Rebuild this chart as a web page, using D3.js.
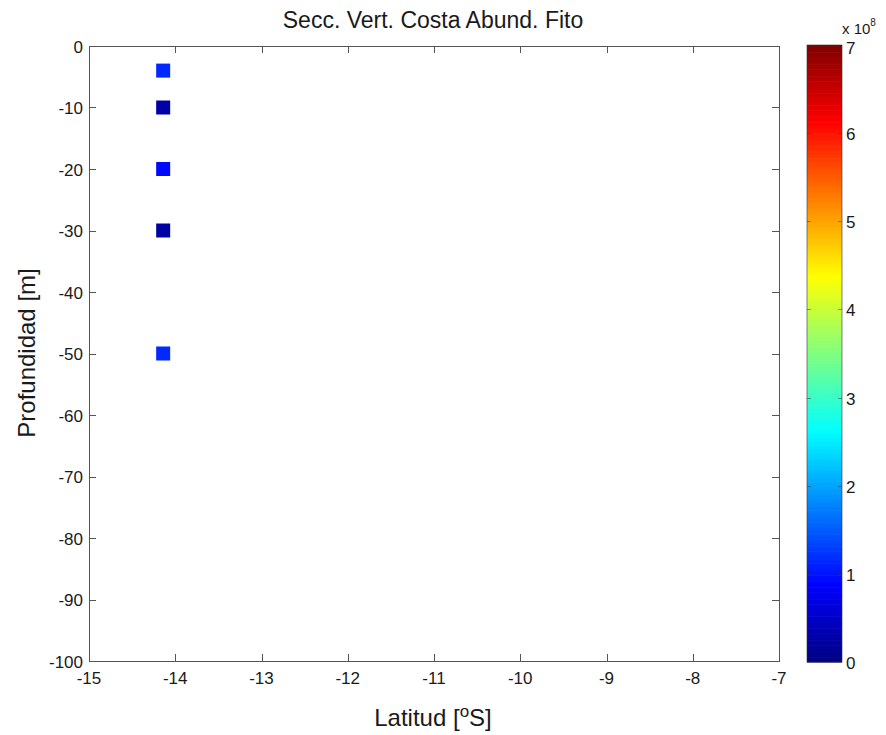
<!DOCTYPE html>
<html><head><meta charset="utf-8">
<script src="https://cdn.jsdelivr.net/npm/d3@7"></script>
<style>body{margin:0;background:#fff}svg{display:block;font-family:"Liberation Sans",Arial,sans-serif}</style>
</head><body>
<svg id="c" width="886" height="735"></svg>
<script>
const latitudes = [-14.14, -14.14, -14.14, -14.14, -14.14];
const depths = [-4, -10, -20, -30, -50];
const abundance = [1.15e8, 0.3e8, 0.95e8, 0.25e8, 1.15e8];
const xTicks = [-15, -14, -13, -12, -11, -10, -9, -8, -7];
const yTicks = [0, -10, -20, -30, -40, -50, -60, -70, -80, -90, -100];
const cbTicks = [0, 1, 2, 3, 4, 5, 6, 7];

function jet(t){
  const c = v => Math.max(0, Math.min(1, v));
  const r = c(1.5 - Math.abs(4*t - 3));
  const g = c(1.5 - Math.abs(4*t - 2));
  const b = c(1.5 - Math.abs(4*t - 1));
  return d3.rgb(r*255, g*255, b*255).toString();
}
const nLevels = 64;
function jetQ(t){ const i = Math.min(nLevels-1, Math.floor(t*nLevels)); return jet((i+0.5)/nLevels); }

const svg = d3.select("#c");
const L = 89, R = 779, T = 46, B = 661;
const x = d3.scaleLinear().domain([-15, -7]).range([L, R]);
const y = d3.scaleLinear().domain([-100, 0]).range([B, T]);
const cmax = 7e8;
const color = v => jetQ(v / cmax);
const axisColor = "#555";
const tl = 7;
const txt = "#1a1a1a";
const fs = 17;

svg.append("rect").attr("x", L + 0.5).attr("y", T + 0.5).attr("width", R-L).attr("height", B-T)
  .attr("fill", "none").attr("stroke", axisColor).attr("stroke-width", 1);

const g = svg.append("g");
xTicks.forEach(v => {
  const px = Math.round(x(v)) + 0.5;
  g.append("line").attr("x1", px).attr("x2", px).attr("y1", B).attr("y2", B - tl).attr("stroke", axisColor);
  g.append("line").attr("x1", px).attr("x2", px).attr("y1", T).attr("y2", T + tl).attr("stroke", axisColor);
  g.append("text").attr("x", x(v)).attr("y", B + 23).attr("text-anchor", "middle")
    .attr("font-size", fs).attr("fill", txt).text(v);
});
yTicks.forEach(v => {
  const py = Math.round(y(v)) + 0.5;
  g.append("line").attr("x1", L).attr("x2", L + tl).attr("y1", py).attr("y2", py).attr("stroke", axisColor);
  g.append("line").attr("x1", R).attr("x2", R - tl).attr("y1", py).attr("y2", py).attr("stroke", axisColor);
  g.append("text").attr("x", L - 6).attr("y", y(v) + 6.5).attr("text-anchor", "end")
    .attr("font-size", fs).attr("fill", txt).text(v);
});

const s = 14;
svg.append("g").selectAll("rect").data(depths.map((d, i) => ({lat: latitudes[i], dep: d, v: abundance[i]})))
  .join("rect")
  .attr("x", d => x(d.lat) - s/2).attr("y", d => y(d.dep) - s/2)
  .attr("width", s).attr("height", s).attr("fill", d => color(d.v));

svg.append("text").attr("x", 433).attr("y", 28).attr("text-anchor", "middle")
  .attr("font-size", 23).attr("fill", txt).text("Secc. Vert. Costa Abund. Fito");
const xl = svg.append("text").attr("x", 433).attr("y", 726).attr("text-anchor", "middle")
  .attr("font-size", 24).attr("fill", txt);
xl.append("tspan").text("Latitud [");
xl.append("tspan").attr("dy", -9).attr("font-size", 17).text("o");
xl.append("tspan").attr("dy", 9).text("S]");
svg.append("text").attr("transform", "translate(35,353) rotate(-90)").attr("text-anchor", "middle")
  .attr("font-size", 24).attr("fill", txt).text("Profundidad [m]");

const cbL = 807, cbR = 842, cbT = 45, cbB = 662;
const cy = d3.scaleLinear().domain([0, 7]).range([cbB, cbT]);
const cb = svg.append("g");
const nBar = 256;
const bandH = (cbB - cbT) / nBar;
d3.range(nBar).forEach(i => {
  cb.append("rect").attr("x", cbL).attr("width", cbR - cbL)
    .attr("y", cbB - (i+1)*bandH).attr("height", bandH + 0.6)
    .attr("fill", jet((i+0.5)/nBar));
});
cb.append("rect").attr("x", cbL).attr("y", cbT).attr("width", cbR-cbL).attr("height", cbB-cbT)
  .attr("fill", "none").attr("stroke", "#333").attr("stroke-width", 0.6);
cbTicks.forEach(v => {
  const py = Math.round(cy(v)) + 0.5;
  if (v > 0 && v < 7) {
    cb.append("line").attr("x1", cbL).attr("x2", cbL + 4).attr("y1", py).attr("y2", py).attr("stroke", "#333").attr("stroke-opacity", 0.5);
    cb.append("line").attr("x1", cbR).attr("x2", cbR - 4).attr("y1", py).attr("y2", py).attr("stroke", "#333").attr("stroke-opacity", 0.5);
  }
  cb.append("text").attr("x", cbR + 4).attr("y", cy(v) + (v === 7 ? 9 : 7)).attr("font-size", fs).attr("fill", txt).text(v);
});
const ex = svg.append("text").attr("x", 842).attr("y", 34).attr("font-size", 15).attr("fill", txt);
ex.append("tspan").text("x 10");
ex.append("tspan").attr("dy", -8).attr("font-size", 10).text("8");
</script>
</body></html>
